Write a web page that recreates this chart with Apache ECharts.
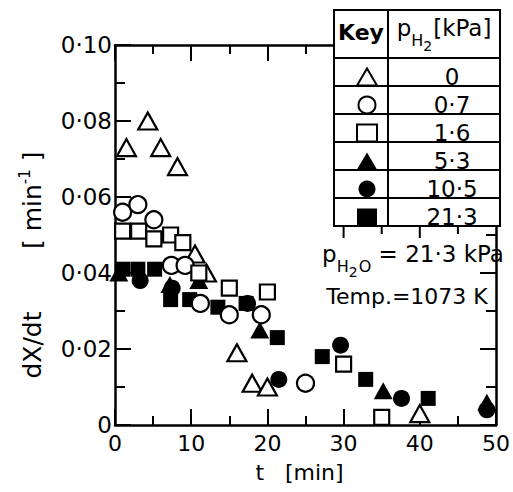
<!DOCTYPE html>
<html>
<head>
<meta charset="utf-8">
<script src="https://cdn.jsdelivr.net/npm/echarts@6/dist/echarts.min.js"></script>
<style>
html,body{margin:0;padding:0;background:#fff}
#chart{width:513px;height:492px}
</style>
</head>
<body>
<div id="chart"></div>
<script>
// p_H2 values in kPa, one series each
var keyNames = ['0', '0.7', '1.6', '5.3', '10.5', '21.3'];

// [t (min), dX/dt (1/min)]
var pts0 = [[1.5, 0.073], [4.3, 0.080], [6.0, 0.073], [8.2, 0.068], [10.5, 0.045], [12.0, 0.040], [16.0, 0.019], [18.0, 0.011], [20.0, 0.010], [40.0, 0.003]];
var pts07 = [[1.0, 0.056], [3.0, 0.058], [5.1, 0.054], [7.4, 0.042], [9.2, 0.042], [11.2, 0.032], [15.0, 0.029], [19.2, 0.029], [25.0, 0.011]];
var pts16 = [[1.0, 0.051], [3.1, 0.051], [5.1, 0.049], [7.3, 0.050], [8.9, 0.048], [11.0, 0.040], [15.0, 0.036], [20.0, 0.035], [30.0, 0.016], [35.0, 0.002]];
var pts53 = [[0.5, 0.040], [7.2, 0.037], [11.0, 0.038], [19.0, 0.025], [35.2, 0.009], [48.8, 0.006]];
var pts105 = [[3.3, 0.038], [7.5, 0.036], [17.4, 0.032], [21.5, 0.012], [29.6, 0.021], [37.6, 0.007], [48.8, 0.004]];
var pts213 = [[1.0, 0.041], [3.0, 0.041], [5.2, 0.041], [7.3, 0.033], [9.8, 0.033], [13.5, 0.031], [17.2, 0.032], [21.3, 0.023], [27.2, 0.018], [32.9, 0.012], [41.1, 0.007]];

// top-axis ticks that show again under the key table
var tableTicks = [30, 35, 40, 45];

var allPts = [pts0, pts07, pts16, pts53, pts105, pts213];
var font = 'DejaVu Sans';

function dot(s) {
    return String(s).replace('.', '·');
}

// marker look for each key
var marks = [
    {symbol: 'triangle', size: [19, 17], open: true},
    {symbol: 'circle', size: 17, open: true},
    {symbol: 'rect', size: 15, open: true},
    {symbol: 'triangle', size: [19, 17], open: false},
    {symbol: 'circle', size: 17, open: false},
    {symbol: 'rect', size: 15, open: false}
];

var chart = echarts.init(document.getElementById('chart'), null, {renderer: 'svg'});

var series = keyNames.map(function (n, i) {
    var m = marks[i];
    return {
        name: n,
        type: 'scatter',
        data: allPts[i],
        xAxisIndex: 0,
        yAxisIndex: 0,
        symbol: m.symbol,
        symbolSize: m.size,
        itemStyle: {
            color: m.open ? '#fff' : '#000',
            borderColor: '#000',
            borderWidth: m.open ? 2.2 : 0,
            opacity: 1
        },
        z: m.open ? 3 : 2
    };
});

var tickStyle = {color: '#000', width: 2};

// major axes carry the line, labels and long ticks; minor axes only short ticks
function xAx(pos, major) {
    return {
        type: 'value', position: pos, min: 0, max: 50, interval: major ? 10 : 5,
        axisLine: {show: major, onZero: false, lineStyle: {color: '#000', width: 2.5}},
        axisTick: {show: true, inside: true, length: major ? 16 : 9, lineStyle: tickStyle},
        splitLine: {show: false},
        axisLabel: {show: major && pos == 'bottom', margin: 7, color: '#000', fontFamily: font, fontSize: 22},
        name: major && pos == 'bottom' ? 't   [min]' : '',
        nameLocation: 'middle', nameGap: 36,
        nameTextStyle: {color: '#000', fontFamily: font, fontSize: 22, padding: [0, 12, 0, 0]}
    };
}

function yAx(pos, major) {
    var main = major && pos == 'left';
    return {
        type: 'value', position: pos, min: 0, max: 0.10, interval: major ? 0.02 : 0.01,
        axisLine: {show: major, onZero: false, lineStyle: {color: '#000', width: 2.5}},
        axisTick: {show: true, inside: true, length: major ? 16 : 10, lineStyle: tickStyle},
        splitLine: {show: false},
        axisLabel: {
            show: main, margin: 3, color: '#000', fontFamily: font, fontSize: 23,
            formatter: function (v) {
                if (v === 0) return '0';
                return dot(v.toFixed(2));
            }
        },
        name: main ? 'dX/dt\u2003\u2003\u2002[ min{sup|-1} ]' : '',
        nameLocation: 'middle', nameGap: 68,
        nameTextStyle: {
            color: '#000', fontFamily: font, fontSize: 25, padding: [0, 60, 0, 0], lineHeight: 30,
            rich: {sup: {fontSize: 15, fontFamily: font, color: '#000', verticalAlign: 'top', lineHeight: 30, padding: [0, 0, 10, 0]}}
        }
    };
}

var lineStyle = {stroke: '#000', lineWidth: 2};
var rowTop = 58, rowH = 28;
var tableShapes = [
    {type: 'rect', shape: {x: 334, y: 10, width: 166, height: 216}, style: {fill: '#fff', stroke: '#000', lineWidth: 2}, z: 10},
    {type: 'line', shape: {x1: 388, y1: 10, x2: 388, y2: 226}, style: lineStyle, z: 11}
];
for (var r = 0; r < 6; r++) {
    var yy = rowTop + r * rowH;
    tableShapes.push({type: 'line', shape: {x1: 334, y1: yy, x2: 500, y2: yy}, style: lineStyle, z: 11});
}

// p with lowered H and a further lowered 2 (tokens pushed down by top padding)
var subRich = {
    m: {fontFamily: font, fontSize: 23, lineHeight: 24, verticalAlign: 'top', fill: '#000', padding: [0, 0, 16, 0]},
    s: {fontFamily: font, fontSize: 16, lineHeight: 16, verticalAlign: 'top', fill: '#000', padding: [16, 0, 0, 0]},
    ss: {fontFamily: font, fontSize: 14, lineHeight: 14, verticalAlign: 'top', fill: '#000', padding: [23, 1, 0, 0]}
};

var texts = [
    {type: 'text', x: 361, y: 32, z: 12, style: {text: 'Key', fontFamily: font, fontSize: 22, fontWeight: 'bold', fill: '#000', align: 'center', verticalAlign: 'middle'}},
    {type: 'text', x: 444, y: 16, z: 12, style: {text: '{m|p}{s|H}{ss|2}{m|[kPa]}', fill: '#000', align: 'center', verticalAlign: 'top', rich: subRich}},
    {type: 'text', x: 413, y: 242, z: 12, style: {text: '{m|p}{s|H}{ss|2}{s|O}{m| = 21·3 kPa}', fill: '#000', align: 'center', verticalAlign: 'top', rich: subRich}},
    {type: 'text', x: 407, y: 296, z: 12, style: {text: 'Temp.=1073 K', fontFamily: font, fontSize: 22, fill: '#000', align: 'center', verticalAlign: 'middle'}}
];

var option = {
    animation: false,
    backgroundColor: '#fff',
    grid: {left: 115, right: 15, top: 45, bottom: 67, containLabel: false},
    xAxis: [xAx('bottom', true), xAx('bottom', false), xAx('top', true), xAx('top', false)],
    yAxis: [yAx('left', true), yAx('left', false), yAx('right', true), yAx('right', false)],
    legend: {
        orient: 'vertical', left: 351, top: rowTop, itemWidth: 20, itemHeight: 17, itemGap: 0,
        selectedMode: false, z: 20, data: keyNames,
        formatter: function (n) { return '{v|' + dot(n) + '}'; },
        textStyle: {
            color: '#000', fontFamily: font, fontSize: 23, lineHeight: rowH,
            rich: {v: {width: 140, align: 'center', color: '#000', fontFamily: font, fontSize: 23, lineHeight: rowH}}
        }
    },
    graphic: tableShapes.concat(texts),
    series: series
};
chart.setOption(option);

// short tick marks hanging under the table, placed through the x scale
var tickMarks = tableTicks.map(function (v) {
    var px = chart.convertToPixel({xAxisIndex: 0}, v);
    var len = v % 10 === 0 ? 12 : 8;
    return {type: 'line', shape: {x1: px, y1: 226, x2: px, y2: 226 + len}, style: lineStyle, z: 11};
});
option.graphic = tableShapes.concat(texts, tickMarks);
chart.setOption(option, true);
</script>
</body>
</html>
